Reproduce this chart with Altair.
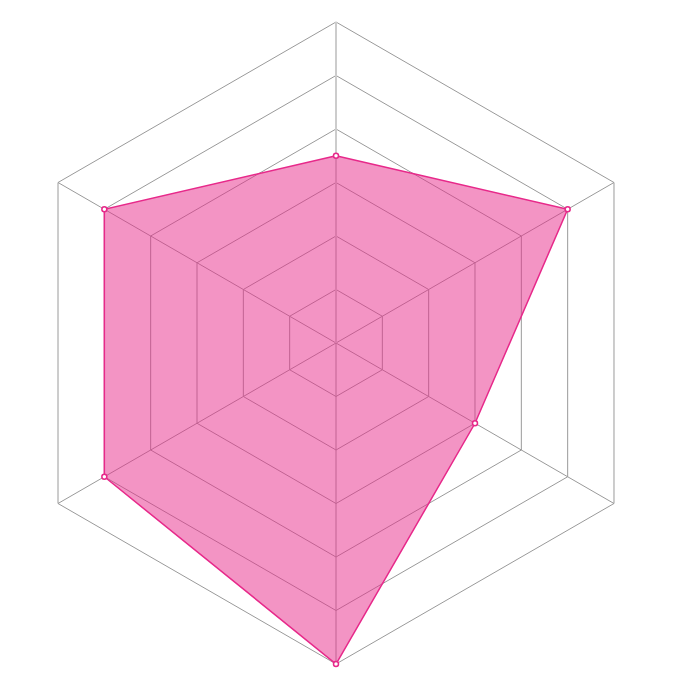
import math
import altair as alt
import pandas as pd

# ---- data ----
categories = ["A", "B", "C", "D", "E", "F"]
values = [3.5, 5, 3, 6, 5, 5]
ring_levels = [1, 2, 3, 4, 5, 6]
max_value = 6

n = len(categories)


def angle(k):
    return math.radians(90 - 360.0 / n * k)


# grid rings
ring_rows = []
for lvl in ring_levels:
    for i in range(n + 1):
        k = i % n
        ring_rows.append({"ring": lvl, "idx": i,
                          "x": lvl * math.cos(angle(k)),
                          "y": lvl * math.sin(angle(k))})
rings = pd.DataFrame(ring_rows)

# spokes
spoke_rows = []
for k, c in enumerate(categories):
    for j, r in enumerate([0, max_value]):
        spoke_rows.append({"cat": c, "idx": j, "top": k == 0,
                           "x": r * math.cos(angle(k)),
                           "y": r * math.sin(angle(k))})
spokes = pd.DataFrame(spoke_rows)

# series polygon
poly_rows = []
for i in range(n + 1):
    k = i % n
    poly_rows.append({"cat": categories[k], "idx": i,
                      "x": values[k] * math.cos(angle(k)),
                      "y": values[k] * math.sin(angle(k))})
poly = pd.DataFrame(poly_rows)
pts = poly.iloc[:n]

px_per_unit = 53.5
W = H = 656
xhalf = (W / 2) / px_per_unit
ytop = 335 / px_per_unit
ybot = -(H - 335) / px_per_unit

xs = alt.Scale(domain=[-xhalf, xhalf], nice=False, zero=False)
ys = alt.Scale(domain=[ybot, ytop], nice=False, zero=False)
X = alt.X("x:Q", scale=xs, axis=None)
Y = alt.Y("y:Q", scale=ys, axis=None)

grid = alt.Chart(rings).mark_line(color="#9a9a9a", strokeWidth=1).encode(
    x=X, y=Y, detail="ring:N", order="idx:Q")

spoke_other = alt.Chart(spokes[~spokes["top"]]).mark_line(
    color="#9a9a9a", strokeWidth=1).encode(x=X, y=Y, detail="cat:N", order="idx:Q")
spoke_top = alt.Chart(spokes[spokes["top"]]).mark_line(
    color="#cccccc", strokeWidth=2).encode(x=X, y=Y, detail="cat:N", order="idx:Q")

fill = alt.Chart(poly).mark_line(
    fill="#e7298a", fillOpacity=0.5, stroke="#e7298a", strokeWidth=1.5,
    strokeJoin="miter").encode(x=X, y=Y, order="idx:Q")

points = alt.Chart(pts).mark_point(
    filled=True, fill="white", stroke="#e7298a", strokeWidth=1.5,
    size=25, opacity=1).encode(x=X, y=Y)

chart = alt.layer(grid, spoke_other, spoke_top, fill, points).properties(
    width=W, height=H, padding=0
).configure_view(stroke=None)

chart.save("out.html", embed_options={"renderer": "svg", "actions": False})
